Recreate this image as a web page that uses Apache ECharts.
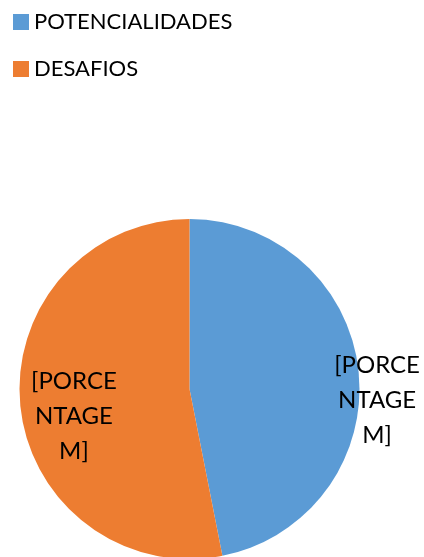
<!DOCTYPE html>
<html>
<head>
<meta charset="utf-8">
<script src="https://cdn.jsdelivr.net/npm/echarts@6/dist/echarts.min.js"></script>
<style>
  html, body { margin: 0; padding: 0; background: #fff; }
  #chart { width: 424px; height: 557px; }
</style>
</head>
<body>
<div id="chart"></div>
<script>
// categories and values (labels in the source are Excel placeholders)
const categories = ['POTENCIALIDADES', 'DESAFIOS']
const values = [46.9, 53.1]
const labelText = ['[PORCE', 'NTAGE', 'M]']
const colors = ['#5B9BD5', '#ED7D31']

// label nudges relative to the default inside position
const labelShift = [[100, 20], [-28, 19]]

const chart = echarts.init(document.getElementById('chart'))

chart.setOption({
  animation: false,
  color: colors,
  legend: {
    orient: 'vertical',
    left: 8,
    top: 6,
    icon: 'rect',
    itemWidth: 16,
    itemHeight: 16,
    itemGap: 25,
    data: categories,
    textStyle: {
      fontFamily: 'Lato',
      fontSize: 22,
      color: '#000',
    },
  },
  series: [
    {
      type: 'pie',
      center: [189.5, 389],
      radius: 170,
      startAngle: 90,
      clockwise: true,
      silent: true,
      label: {
        position: 'inside',
        formatter: labelText.join('\n'),
        fontFamily: 'Lato',
        fontSize: 24,
        lineHeight: 35,
        color: '#000',
      },
      labelLayout: params => ({
        dx: labelShift[params.dataIndex][0],
        dy: labelShift[params.dataIndex][1],
      }),
      labelLine: { show: false },
      data: categories.map((name, i) => ({ name: name, value: values[i] })),
    },
  ],
})
</script>
</body>
</html>
